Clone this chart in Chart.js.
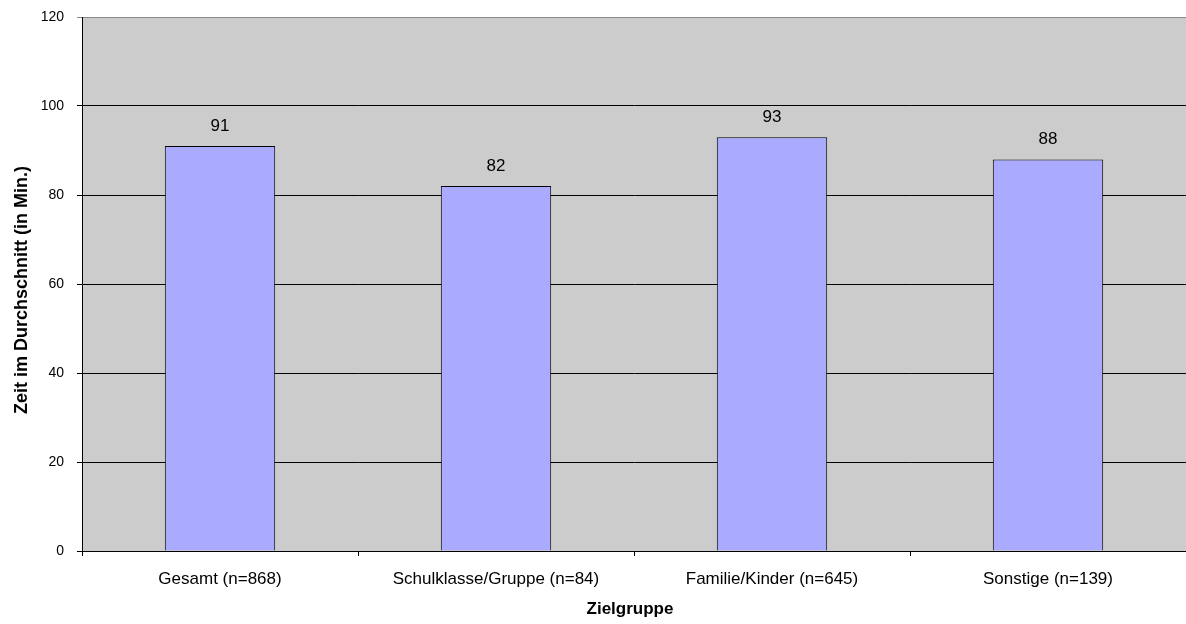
<!DOCTYPE html>
<html>
<head>
<meta charset="utf-8">
<script src="https://cdn.jsdelivr.net/npm/chart.js@4.4.1/dist/chart.umd.min.js"></script>
<style>
  html, body { margin: 0; padding: 0; background: #ffffff; }
  #wrap { width: 1186px; height: 624px; }
</style>
</head>
<body>
<div id="wrap"><canvas id="chart" width="1186" height="624"></canvas></div>
<script>
// Durchschnittliche Besuchszeit je Zielgruppe
const categories = ['Gesamt (n=868)', 'Schulklasse/Gruppe (n=84)', 'Familie/Kinder (n=645)', 'Sonstige (n=139)'];
const minutes = [91, 82, 93, 88];
const yTicks = [0, 20, 40, 60, 80, 100, 120];
const xTitle = 'Zielgruppe';
const yTitle = 'Zeit im Durchschnitt (in Min.)';

const FONT = '"Liberation Sans", Arial, sans-serif';

// grey plot background behind grid and bars
const plotBackground = {
  id: 'plotBackground',
  beforeDraw(chart) {
    const { ctx, chartArea: a } = chart;
    ctx.save();
    ctx.fillStyle = '#cccccc';
    ctx.fillRect(a.left, a.top, a.right - a.left, a.bottom - a.top);
    ctx.restore();
  }
};

// value labels above each bar
const valueLabels = {
  id: 'valueLabels',
  afterDatasetsDraw(chart) {
    const { ctx } = chart;
    const meta = chart.getDatasetMeta(0);
    ctx.save();
    ctx.font = '17px ' + FONT;
    ctx.fillStyle = '#000';
    ctx.textAlign = 'center';
    ctx.textBaseline = 'middle';
    meta.data.forEach((bar, i) => {
      ctx.fillText(String(chart.data.datasets[0].data[i]), bar.x, bar.y - 20);
    });
    ctx.restore();
  }
};

// axis titles
const axisTitles = {
  id: 'axisTitles',
  afterDraw(chart) {
    const { ctx, chartArea: a } = chart;
    ctx.save();
    ctx.fillStyle = '#000';
    ctx.font = 'bold 17px ' + FONT;
    ctx.textAlign = 'center';
    ctx.textBaseline = 'middle';
    ctx.fillText(xTitle, (a.left + a.right) / 2 - 4, 609);
    ctx.font = 'bold 18px ' + FONT;
    ctx.translate(22, (a.top + a.bottom) / 2 + 6);
    ctx.rotate(-Math.PI / 2);
    ctx.fillText(yTitle, 0, 0);
    ctx.restore();
  }
};

new Chart(document.getElementById('chart'), {
  type: 'bar',
  data: {
    labels: categories,
    datasets: [{
      data: minutes,
      backgroundColor: '#aaaaff',
      borderColor: '#000000',
      borderWidth: 1,
      barPercentage: 0.4,
      categoryPercentage: 1.0
    }]
  },
  options: {
    responsive: false,
    devicePixelRatio: 1,
    animation: false,
    layout: { padding: { top: 17, right: 0, bottom: 0, left: 0 } },
    plugins: {
      legend: { display: false },
      tooltip: { enabled: false }
    },
    scales: {
      x: {
        grid: {
          display: true,
          offset: true,
          drawOnChartArea: false,
          drawTicks: true,
          tickLength: 5,
          color: '#000'
        },
        border: { display: true, color: '#000', width: 1 },
        ticks: {
          color: '#000',
          font: { family: FONT, size: 17 },
          padding: 13,
          maxRotation: 0,
          autoSkip: false
        },
        afterFit(scale) {
          scale.height = 73;
          scale.paddingLeft = 0;
          scale.paddingRight = 0;
        }
      },
      y: {
        min: 0,
        max: 120,
        afterBuildTicks(scale) { scale.ticks = yTicks.map(v => ({ value: v })); },
        grid: {
          color: ctx => (ctx.tick && ctx.tick.value === 120 ? '#888888' : '#000000'),
          lineWidth: 1,
          drawTicks: true,
          tickLength: 5
        },
        border: { display: true, color: '#000', width: 1 },
        ticks: {
          color: '#000',
          font: { family: FONT, size: 14 },
          padding: 13
        },
        afterFit(scale) {
          scale.width = 82;
          scale.paddingTop = 0;
          scale.paddingBottom = 0;
        }
      }
    }
  },
  plugins: [plotBackground, valueLabels, axisTitles]
});
</script>
</body>
</html>
